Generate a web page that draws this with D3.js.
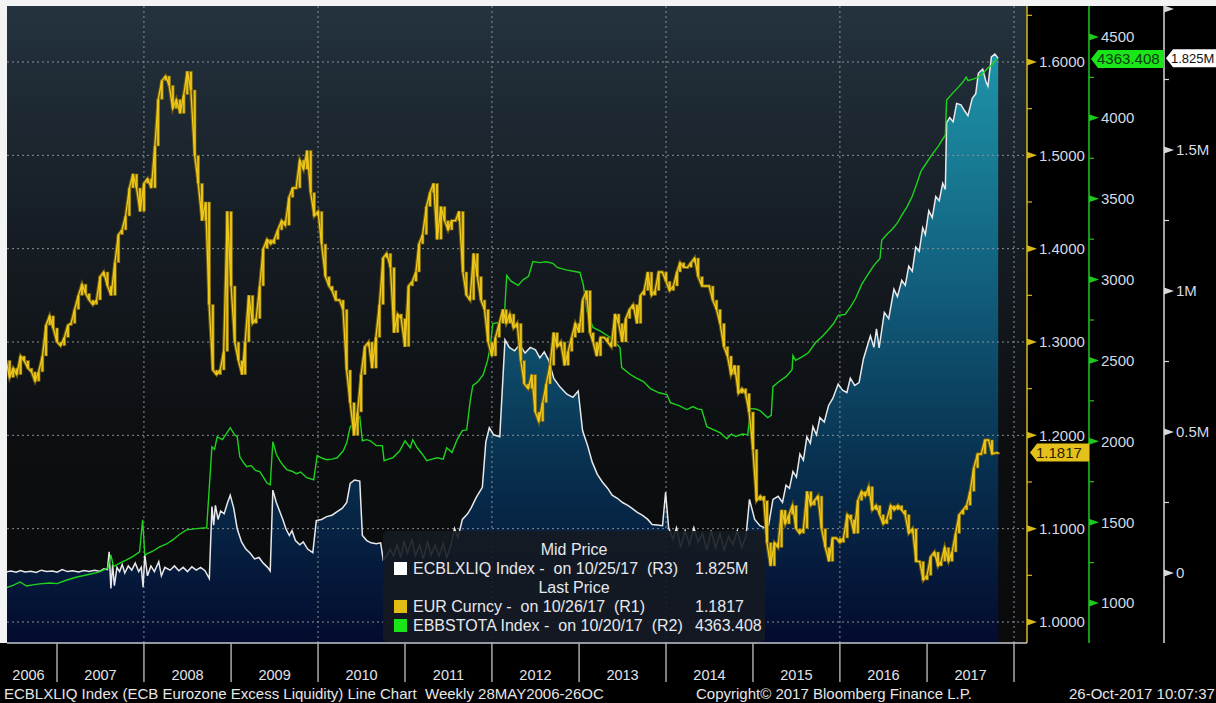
<!DOCTYPE html>
<html>
<head>
<meta charset="utf-8">
<script src="https://cdn.jsdelivr.net/npm/d3@7"></script>
<style>
html, body { margin: 0; padding: 0; background: #000; }
svg { display: block; }
text { font-family: "Liberation Sans", Arial, sans-serif; }
</style>
</head>
<body>
<svg id="chart" width="1216" height="703"></svg>
<script>
// EUR Curncy, twice a month (1st and 16th), Jun 2006 .. Oct 2017 (last = 26 Oct)
const eurClose = [
  1.280, 1.262, 1.272, 1.265, 1.285, 1.280, 1.272, 1.268, 1.258, 1.268, 1.285, 1.318, 1.328, 1.315,
  1.300, 1.296, 1.305, 1.318, 1.320, 1.335, 1.350, 1.362, 1.352, 1.345, 1.340, 1.345,
  1.370, 1.375, 1.360, 1.350, 1.385, 1.415, 1.420, 1.435, 1.465, 1.480, 1.465, 1.440,
  1.470, 1.475, 1.465, 1.510, 1.560, 1.580, 1.585, 1.575, 1.550, 1.560, 1.545, 1.565,
  1.590, 1.570, 1.500, 1.470, 1.430, 1.450, 1.340, 1.270, 1.265, 1.270, 1.290, 1.440,
  1.360, 1.300, 1.280, 1.265, 1.300, 1.350, 1.320, 1.325, 1.360, 1.400, 1.410, 1.405,
  1.410, 1.420, 1.430, 1.425, 1.455, 1.465, 1.465, 1.495, 1.485, 1.505, 1.460, 1.435,
  1.440, 1.405, 1.370, 1.360, 1.355, 1.345, 1.345, 1.335, 1.270, 1.235, 1.200, 1.225,
  1.265, 1.295, 1.300, 1.272, 1.305, 1.340, 1.390, 1.395, 1.380, 1.310, 1.330, 1.325,
  1.295, 1.360, 1.365, 1.375, 1.405, 1.415, 1.445, 1.460, 1.470, 1.410, 1.445, 1.430,
  1.420, 1.430, 1.430, 1.440, 1.375, 1.350, 1.345, 1.395, 1.370, 1.345, 1.335, 1.300,
  1.285, 1.305, 1.320, 1.335, 1.320, 1.330, 1.315, 1.320, 1.280, 1.255, 1.250, 1.265,
  1.225, 1.215, 1.235, 1.255, 1.275, 1.310, 1.295, 1.300, 1.275, 1.290, 1.305, 1.320,
  1.310, 1.345, 1.355, 1.310, 1.300, 1.285, 1.305, 1.305, 1.300, 1.295, 1.330, 1.320,
  1.300, 1.325, 1.335, 1.340, 1.320, 1.350, 1.355, 1.375, 1.350, 1.355, 1.375, 1.375,
  1.365, 1.355, 1.360, 1.375, 1.385, 1.380, 1.380, 1.385, 1.390, 1.370, 1.360, 1.360,
  1.360, 1.345, 1.335, 1.320, 1.295, 1.285, 1.265, 1.275, 1.245, 1.250, 1.245, 1.225,
  1.185, 1.130, 1.135, 1.130, 1.085, 1.060, 1.085, 1.080, 1.120, 1.105, 1.115, 1.125,
  1.100, 1.095, 1.100, 1.140, 1.125, 1.130, 1.135, 1.100, 1.080, 1.065, 1.090, 1.090,
  1.085, 1.090, 1.115, 1.110, 1.095, 1.130, 1.140, 1.135, 1.145, 1.120, 1.125, 1.115,
  1.105, 1.110, 1.125, 1.120, 1.125, 1.120, 1.115, 1.095, 1.100, 1.065, 1.065, 1.045,
  1.050, 1.070, 1.075, 1.060, 1.065, 1.080, 1.065, 1.075, 1.095, 1.115, 1.120, 1.125,
  1.140, 1.165, 1.180, 1.180, 1.195, 1.195, 1.180, 1.1817
];

// EBBSTOTA Index (ECB balance sheet), [decimal year, value]
const balanceSheet = [
  [2006.41, 1093], [2006.5, 1110], [2006.575, 1130], [2006.65, 1105], [2006.72, 1112], [2006.8, 1118],
  [2006.92, 1124], [2007.0, 1120], [2007.115, 1142], [2007.23, 1161], [2007.35, 1175], [2007.49, 1192],
  [2007.585, 1217], [2007.62, 1297], [2007.65, 1225], [2007.7, 1240], [2007.8, 1266], [2007.88, 1290],
  [2007.95, 1316], [2007.985, 1514], [2008.01, 1297], [2008.1, 1320], [2008.18, 1347], [2008.26, 1365],
  [2008.33, 1390], [2008.41, 1425], [2008.49, 1452], [2008.6, 1460], [2008.72, 1465], [2008.76, 1800],
  [2008.78, 1966], [2008.81, 1950], [2008.84, 2028], [2008.9, 2010], [2008.95, 2050], [2008.99, 2084],
  [2009.04, 2040], [2009.07, 2028], [2009.1, 1904], [2009.14, 1870], [2009.18, 1843], [2009.23, 1850],
  [2009.28, 1820], [2009.33, 1812], [2009.38, 1770], [2009.41, 1743], [2009.45, 1731], [2009.48, 1997],
  [2009.52, 1920], [2009.56, 1880], [2009.6, 1850], [2009.64, 1824], [2009.7, 1815], [2009.75, 1800],
  [2009.8, 1810], [2009.87, 1775], [2009.95, 1762], [2009.99, 1911], [2010.05, 1895], [2010.1, 1886],
  [2010.16, 1890], [2010.22, 1898], [2010.29, 1941], [2010.33, 1990], [2010.37, 2090], [2010.42, 2120],
  [2010.48, 2152], [2010.51, 2003], [2010.56, 2010], [2010.6, 2003], [2010.67, 1973], [2010.74, 1973],
  [2010.76, 1880], [2010.81, 1890], [2010.86, 1898], [2010.94, 1941], [2011.0, 2003], [2011.06, 1960],
  [2011.09, 2010], [2011.14, 1960], [2011.2, 1920], [2011.25, 1880], [2011.31, 1890], [2011.37, 1898],
  [2011.44, 1890], [2011.48, 1960], [2011.54, 1930], [2011.6, 2010], [2011.66, 2066], [2011.71, 2070],
  [2011.75, 2250], [2011.78, 2344], [2011.84, 2370], [2011.9, 2412], [2011.95, 2500], [2011.98, 2580],
  [2012.01, 2728], [2012.08, 2735], [2012.14, 2750], [2012.17, 3026], [2012.22, 2990], [2012.3, 2964],
  [2012.36, 3000], [2012.42, 3020], [2012.47, 3112], [2012.55, 3105], [2012.62, 3110], [2012.7, 3100],
  [2012.75, 3075], [2012.85, 3060], [2012.95, 3050], [2013.01, 3044], [2013.05, 2964], [2013.09, 2809],
  [2013.16, 2704], [2013.25, 2680], [2013.36, 2642], [2013.47, 2580], [2013.49, 2456], [2013.59, 2413],
  [2013.66, 2390], [2013.74, 2369], [2013.82, 2326], [2013.92, 2300], [2014.01, 2289], [2014.05, 2239],
  [2014.15, 2220], [2014.24, 2196], [2014.31, 2215], [2014.36, 2200], [2014.41, 2196], [2014.47, 2090],
  [2014.55, 2070], [2014.62, 2053], [2014.7, 2016], [2014.75, 2045], [2014.8, 2030], [2014.88, 2045],
  [2014.94, 2040], [2014.97, 2202], [2015.03, 2200], [2015.08, 2190], [2015.17, 2146], [2015.21, 2160],
  [2015.23, 2338], [2015.3, 2370], [2015.38, 2400], [2015.45, 2443], [2015.46, 2530], [2015.49, 2500],
  [2015.56, 2520], [2015.64, 2549], [2015.72, 2611], [2015.8, 2650], [2015.87, 2691], [2015.93, 2730],
  [2015.98, 2778], [2016.06, 2785], [2016.12, 2830], [2016.18, 2883], [2016.25, 2970], [2016.32, 3030],
  [2016.39, 3088], [2016.46, 3131], [2016.48, 3243], [2016.54, 3280], [2016.6, 3311], [2016.66, 3350],
  [2016.71, 3398], [2016.77, 3450], [2016.83, 3515], [2016.88, 3590], [2016.93, 3670], [2016.98, 3710],
  [2017.03, 3751], [2017.08, 3790], [2017.13, 3825], [2017.17, 3860], [2017.21, 3893], [2017.225, 4110],
  [2017.29, 4150], [2017.36, 4190], [2017.41, 4220], [2017.45, 4252], [2017.47, 4230], [2017.53, 4240],
  [2017.59, 4252], [2017.65, 4280], [2017.7, 4308], [2017.75, 4330], [2017.8, 4363.408]
];

// ECBLXLIQ Index (excess liquidity, millions), [decimal year, value]
const liquidity = [
  [2006.41, 0.004], [2006.47, 0.007], [2006.53, 0.003], [2006.58, 0.009], [2006.63, 0.004], [2006.7, 0.006],
  [2006.76, 0.002], [2006.82, 0.01], [2006.88, 0.005], [2006.95, 0.007], [2007.0, 0.003], [2007.06, 0.012],
  [2007.12, 0.005], [2007.18, 0.008], [2007.25, 0.004], [2007.31, 0.009], [2007.37, 0.005], [2007.43, 0.01],
  [2007.49, 0.006], [2007.54, 0.015], [2007.58, 0.012], [2007.6, 0.075], [2007.62, -0.055], [2007.64, 0.03],
  [2007.66, -0.045], [2007.69, 0.02], [2007.72, 0.005], [2007.75, 0.03], [2007.78, 0.0], [2007.82, 0.025],
  [2007.86, 0.01], [2007.9, 0.035], [2007.94, 0.005], [2007.97, 0.02], [2007.99, -0.05], [2008.01, 0.065],
  [2008.04, -0.01], [2008.08, 0.025], [2008.12, 0.005], [2008.17, 0.04], [2008.2, -0.01], [2008.24, 0.02],
  [2008.3, 0.01], [2008.35, 0.025], [2008.4, 0.008], [2008.45, 0.02], [2008.5, 0.005], [2008.55, 0.022],
  [2008.6, 0.01], [2008.65, 0.02], [2008.7, 0.008], [2008.75, -0.02], [2008.78, 0.236], [2008.8, 0.17],
  [2008.82, 0.24], [2008.85, 0.19], [2008.88, 0.22], [2008.92, 0.21], [2008.96, 0.25], [2008.99, 0.276],
  [2009.03, 0.23], [2009.07, 0.157], [2009.12, 0.11], [2009.17, 0.085], [2009.22, 0.07], [2009.27, 0.05],
  [2009.32, 0.055], [2009.37, 0.035], [2009.42, 0.02], [2009.45, 0.007], [2009.48, 0.294], [2009.52, 0.25],
  [2009.56, 0.218], [2009.6, 0.185], [2009.63, 0.157], [2009.67, 0.133], [2009.7, 0.15], [2009.74, 0.115],
  [2009.79, 0.1], [2009.83, 0.11], [2009.88, 0.085], [2009.94, 0.072], [2009.98, 0.186], [2010.04, 0.19],
  [2010.1, 0.2], [2010.16, 0.205], [2010.22, 0.218], [2010.28, 0.23], [2010.33, 0.25], [2010.37, 0.318],
  [2010.42, 0.33], [2010.48, 0.326], [2010.51, 0.133], [2010.56, 0.115], [2010.61, 0.107], [2010.67, 0.104],
  [2010.72, 0.107], [2010.75, 0.047], [2010.79, 0.06], [2010.83, 0.085], [2010.87, 0.06], [2010.91, 0.1],
  [2010.95, 0.055], [2010.99, 0.11], [2011.03, 0.07], [2011.08, 0.12], [2011.12, 0.06], [2011.17, 0.1],
  [2011.21, 0.05], [2011.26, 0.11], [2011.3, 0.065], [2011.35, 0.1], [2011.39, 0.06], [2011.44, 0.105],
  [2011.48, 0.055], [2011.53, 0.1], [2011.57, 0.157], [2011.61, 0.125], [2011.66, 0.19], [2011.72, 0.21],
  [2011.76, 0.23], [2011.82, 0.268], [2011.89, 0.304], [2011.93, 0.465], [2011.97, 0.515], [2012.02, 0.49],
  [2012.09, 0.483], [2012.15, 0.827], [2012.2, 0.8], [2012.26, 0.788], [2012.32, 0.81], [2012.38, 0.78],
  [2012.44, 0.8], [2012.5, 0.791], [2012.55, 0.763], [2012.6, 0.784], [2012.65, 0.755], [2012.71, 0.69],
  [2012.78, 0.66], [2012.86, 0.634], [2012.93, 0.623], [2012.99, 0.645], [2013.04, 0.505], [2013.1, 0.45],
  [2013.15, 0.394], [2013.21, 0.35], [2013.27, 0.322], [2013.33, 0.3], [2013.38, 0.276], [2013.44, 0.265],
  [2013.5, 0.25], [2013.56, 0.24], [2013.61, 0.229], [2013.67, 0.215], [2013.73, 0.204], [2013.79, 0.19],
  [2013.84, 0.172], [2013.9, 0.17], [2013.96, 0.168], [2013.995, 0.286], [2014.03, 0.16], [2014.08, 0.12],
  [2014.12, 0.16], [2014.17, 0.09], [2014.22, 0.15], [2014.27, 0.1], [2014.32, 0.16], [2014.37, 0.11],
  [2014.42, 0.14], [2014.47, 0.08], [2014.52, 0.15], [2014.57, 0.09], [2014.62, 0.14], [2014.67, 0.082],
  [2014.72, 0.13], [2014.77, 0.1], [2014.82, 0.15], [2014.87, 0.09], [2014.92, 0.13], [2014.96, 0.261],
  [2015.02, 0.19], [2015.08, 0.168], [2015.13, 0.161], [2015.18, 0.17], [2015.23, 0.261], [2015.29, 0.272],
  [2015.34, 0.25], [2015.38, 0.311], [2015.42, 0.3], [2015.46, 0.36], [2015.5, 0.34], [2015.54, 0.422],
  [2015.58, 0.4], [2015.62, 0.483], [2015.66, 0.46], [2015.69, 0.519], [2015.73, 0.49], [2015.77, 0.551],
  [2015.82, 0.535], [2015.87, 0.594], [2015.92, 0.62], [2015.98, 0.67], [2016.03, 0.648], [2016.08, 0.64],
  [2016.12, 0.691], [2016.17, 0.665], [2016.22, 0.675], [2016.27, 0.759], [2016.32, 0.81], [2016.35, 0.841],
  [2016.39, 0.8], [2016.42, 0.866], [2016.45, 0.798], [2016.51, 0.924], [2016.56, 0.902], [2016.62, 1.006],
  [2016.66, 0.98], [2016.71, 1.038], [2016.75, 1.02], [2016.79, 1.088], [2016.83, 1.07], [2016.87, 1.156],
  [2016.91, 1.14], [2016.95, 1.224], [2016.98, 1.2], [2017.02, 1.285], [2017.06, 1.26], [2017.1, 1.335],
  [2017.14, 1.32], [2017.18, 1.382], [2017.21, 1.36], [2017.225, 1.597], [2017.26, 1.615], [2017.3, 1.6],
  [2017.34, 1.665], [2017.39, 1.66], [2017.43, 1.64], [2017.47, 1.622], [2017.52, 1.683], [2017.56, 1.7],
  [2017.59, 1.772], [2017.64, 1.787], [2017.68, 1.74], [2017.7, 1.726], [2017.74, 1.83], [2017.78, 1.84],
  [2017.818, 1.825]
];

// axis ticks
const eurTicks = [1.0, 1.1, 1.2, 1.3, 1.4, 1.5, 1.6];
const eurMinor = [1.05, 1.15, 1.25, 1.35, 1.45, 1.55, 1.65];
const bsTicks = [1000, 1500, 2000, 2500, 3000, 3500, 4000, 4500];
const bsMinor = [1250, 1750, 2250, 2750, 3250, 3750, 4250];
const liqTicks = [0, 0.5, 1, 1.5, 2];
const liqTickLabels = ["0", "0.5M", "1M", "1.5M", ""];
const liqMinor = [0.25, 0.75, 1.25, 1.75];
const years = [2006, 2007, 2008, 2009, 2010, 2011, 2012, 2013, 2014, 2015, 2016, 2017];
const gridYears = [2008, 2010, 2012, 2014, 2016, 2018];

const legendRows = [
  { head: "Mid Price", y: 555 },
  { color: "#ffffff", label: "ECBLXLIQ Index -  on 10/25/17  (R3)", value: "1.825M", y: 574 },
  { head: "Last Price", y: 593 },
  { color: "#e2be14", label: "EUR Curncy -  on 10/26/17  (R1)", value: "1.1817", y: 612 },
  { color: "#19e619", label: "EBBSTOTA Index -  on 10/20/17  (R2)", value: "4363.408", y: 631 }
];

// decimal year -> Date
function fromYear(t) {
  const y = Math.floor(t);
  const s = Date.UTC(y, 0, 1), e = Date.UTC(y + 1, 0, 1);
  return new Date(s + (t - y) * (e - s));
}

const eurData = eurClose.map((v, i) => ({
  date: i === eurClose.length - 1 ? new Date(Date.UTC(2017, 9, 26))
    : new Date(Date.UTC(2006, 5 + Math.floor(i / 2), i % 2 ? 16 : 1)),
  v
}));
const bsData = balanceSheet.map(d => ({ date: fromYear(d[0]), v: d[1] }));
const liqData = liquidity.map(d => ({ date: fromYear(d[0]), v: d[1] }));

const W = 1216, H = 703;
const plot = { left: 7, top: 6, right: 1027, bottom: 643 };

const x = d3.scaleUtc()
  .domain([Date.UTC(2007, 0, 1), Date.UTC(2018, 0, 1)])
  .range([57, 1014]);
const yEur = d3.scaleLinear().domain([1.0, 1.6]).range([622, 62]);
const yBs = d3.scaleLinear().domain([1000, 4500]).range([603, 37]);
const yLiq = d3.scaleLinear().domain([0, 2]).range([573, 9]);

const svg = d3.select("#chart");
const defs = svg.append("defs");

// backgrounds
svg.append("rect").attr("width", W).attr("height", H).attr("fill", "#000");
svg.append("rect").attr("width", W).attr("height", plot.top).attr("fill", "#f3f3f3");
svg.append("rect").attr("y", 0).attr("width", plot.left).attr("height", plot.bottom).attr("fill", "#f3f3f3");

const bgGrad = defs.append("linearGradient").attr("id", "bgGrad")
  .attr("gradientUnits", "userSpaceOnUse").attr("x1", 0).attr("x2", 0)
  .attr("y1", plot.top).attr("y2", plot.bottom);
bgGrad.append("stop").attr("offset", 0).attr("stop-color", "#24333f");
bgGrad.append("stop").attr("offset", 0.35).attr("stop-color", "#161d24");
bgGrad.append("stop").attr("offset", 0.7).attr("stop-color", "#0c0e10");
bgGrad.append("stop").attr("offset", 1).attr("stop-color", "#0a0a0b");

const areaGrad = defs.append("linearGradient").attr("id", "areaGrad")
  .attr("gradientUnits", "userSpaceOnUse").attr("x1", 0).attr("x2", 0)
  .attr("y1", 50).attr("y2", plot.bottom);
areaGrad.append("stop").attr("offset", 0).attr("stop-color", "#1e95aa");
areaGrad.append("stop").attr("offset", 0.4).attr("stop-color", "#115e7c");
areaGrad.append("stop").attr("offset", 0.7).attr("stop-color", "#08304f");
areaGrad.append("stop").attr("offset", 1).attr("stop-color", "#040b2e");

defs.append("clipPath").attr("id", "plotClip").append("rect")
  .attr("x", plot.left).attr("y", plot.top)
  .attr("width", plot.right - plot.left).attr("height", plot.bottom - plot.top);

svg.append("rect")
  .attr("x", plot.left).attr("y", plot.top)
  .attr("width", plot.right - plot.left).attr("height", plot.bottom - plot.top)
  .attr("fill", "url(#bgGrad)");

const g = svg.append("g").attr("clip-path", "url(#plotClip)");

// excess liquidity area
g.append("path").datum(liqData)
  .attr("fill", "url(#areaGrad)")
  .attr("d", d3.area().x(d => x(d.date)).y0(plot.bottom).y1(d => yLiq(d.v)));

// grid
g.selectAll(".hgrid").data(eurTicks).join("line")
  .attr("x1", plot.left).attr("x2", plot.right)
  .attr("y1", d => yEur(d)).attr("y2", d => yEur(d))
  .attr("stroke", "#8c9196").attr("stroke-width", 1).attr("stroke-dasharray", "2,3");
g.selectAll(".vgrid").data(gridYears).join("line")
  .attr("x1", d => x(Date.UTC(d, 0, 1))).attr("x2", d => x(Date.UTC(d, 0, 1)))
  .attr("y1", plot.top).attr("y2", plot.bottom)
  .attr("stroke", "#8c9196").attr("stroke-width", 1).attr("stroke-dasharray", "2,3");

// lines
g.append("path").datum(liqData)
  .attr("fill", "none").attr("stroke", "#e8e8ea").attr("stroke-width", 1.5)
  .attr("d", d3.line().x(d => x(d.date)).y(d => yLiq(d.v)));

g.append("path").datum(bsData)
  .attr("fill", "none").attr("stroke", "#1ed21e").attr("stroke-width", 1.4)
  .attr("d", d3.line().x(d => x(d.date)).y(d => yBs(d.v)));

const eurLine = d3.line().x(d => x(d.date)).y(d => yEur(d.v));
g.append("path").datum(eurData)
  .attr("fill", "none").attr("stroke", "#6a5a10").attr("stroke-width", 3.4)
  .attr("d", eurLine);
g.selectAll(".candle").data(eurData.slice(1)).join("rect")
  .attr("x", d => x(d.date) - 1.4)
  .attr("width", 2.8)
  .attr("y", (d, i) => yEur(Math.max(d.v, eurData[i].v)))
  .attr("height", (d, i) => Math.max(1, Math.abs(yEur(d.v) - yEur(eurData[i].v))))
  .attr("fill", "#e6c01a").attr("stroke", "#7a6710").attr("stroke-width", 0.6);
g.append("path").datum(eurData)
  .attr("fill", "none").attr("stroke", "#f2ca18").attr("stroke-width", 1.3)
  .attr("d", eurLine);

// legend
const lg = svg.append("g");
lg.append("rect").attr("x", 383).attr("y", 531).attr("width", 382).attr("height", 111)
  .attr("rx", 5).attr("fill", "#151a21").attr("fill-opacity", 0.9);
legendRows.forEach(r => {
  if (r.head) {
    lg.append("text").attr("x", 574).attr("y", r.y).attr("text-anchor", "middle")
      .attr("font-size", 16).attr("fill", "#e6e8ec").text(r.head);
  } else {
    lg.append("rect").attr("x", 394).attr("y", r.y - 12).attr("width", 13).attr("height", 13)
      .attr("fill", r.color);
    lg.append("text").attr("x", 413).attr("y", r.y).attr("font-size", 16).attr("fill", "#e6e8ec")
      .style("white-space", "pre").text(r.label);
    lg.append("text").attr("x", 695).attr("y", r.y).attr("font-size", 16).attr("fill", "#e6e8ec")
      .text(r.value);
  }
});

// right axes
function rightAxis(xPos, scale, majors, minors, color, labels) {
  const a = svg.append("g");
  a.append("line").attr("x1", xPos).attr("x2", xPos).attr("y1", plot.top).attr("y2", plot.bottom)
    .attr("stroke", color).attr("stroke-width", 1.5);
  a.selectAll(".mn").data(minors).join("line")
    .attr("x1", xPos).attr("x2", xPos + 5)
    .attr("y1", d => scale(d)).attr("y2", d => scale(d))
    .attr("stroke", color).attr("stroke-width", 1.2);
  a.selectAll(".mj").data(majors).join("path")
    .attr("d", d => `M${xPos},${scale(d) - 3.5}L${xPos + 10},${scale(d)}L${xPos},${scale(d) + 3.5}Z`)
    .attr("fill", color);
  a.selectAll(".lb").data(majors).join("text")
    .attr("x", xPos + 12).attr("y", d => scale(d)).attr("dy", "0.36em")
    .attr("font-size", 15).attr("fill", "#d4dae3")
    .text((d, i) => labels[i]);
}
rightAxis(1027, yEur, eurTicks, eurMinor, "#d9b81c", eurTicks.map(d3.format(".4f")));
rightAxis(1089, yBs, bsTicks, bsMinor, "#1ec81e", bsTicks.map(String));
rightAxis(1164, yLiq, liqTicks, liqMinor, "#d8d8d8", liqTickLabels);

// last value tags
function tag(xTip, y, w, fill, textFill, label, size, pad) {
  svg.append("path")
    .attr("d", `M${xTip},${y}L${xTip + 7},${y - 9}L${xTip + w},${y - 9}L${xTip + w},${y + 9}L${xTip + 7},${y + 9}Z`)
    .attr("fill", fill);
  svg.append("text").attr("x", xTip + pad).attr("y", y).attr("dy", "0.36em")
    .attr("font-size", size).attr("fill", textFill).text(label);
}
const lastBs = bsData[bsData.length - 1], lastLiq = liqData[liqData.length - 1], lastEur = eurData[eurData.length - 1];
tag(1091, yBs(lastBs.v), 73, "#19e619", "#0b3a0b", d3.format(".3f")(lastBs.v), 15, 6);
tag(1166, yLiq(lastLiq.v), 50, "#ffffff", "#111", "1.825M", 13, 5);
tag(1030, yEur(lastEur.v), 59, "#e5c11c", "#2b2200", d3.format(".4f")(lastEur.v), 15, 6);

// bottom axis
svg.append("line").attr("x1", plot.left).attr("x2", plot.right)
  .attr("y1", plot.bottom).attr("y2", plot.bottom)
  .attr("stroke", "#c4c8d0").attr("stroke-width", 1.5);
svg.selectAll(".ytick").data(years.slice(1).concat([2018])).join("line")
  .attr("x1", d => x(Date.UTC(d, 0, 1))).attr("x2", d => x(Date.UTC(d, 0, 1)))
  .attr("y1", plot.bottom).attr("y2", 682)
  .attr("stroke", "#a8a8a8").attr("stroke-width", 1.5);
svg.selectAll(".ylab").data(years).join("text")
  .attr("x", d => {
    const a = d === 2006 ? 0 : x(Date.UTC(d, 0, 1));
    return (a + x(Date.UTC(d + 1, 0, 1))) / 2;
  })
  .attr("y", 680).attr("text-anchor", "middle")
  .attr("font-size", 14.5).attr("fill", "#e0e3e8").text(d => d);

// footer
svg.append("text").attr("x", 4).attr("y", 699).attr("font-size", 15).attr("fill", "#e6e6e6")
  .style("white-space", "pre")
  .text("ECBLXLIQ Index (ECB Eurozone Excess Liquidity) Line Chart  Weekly 28MAY2006-26OC");
svg.append("text").attr("x", 696).attr("y", 699).attr("font-size", 15).attr("fill", "#e6e6e6")
  .text("Copyright\u00a9 2017 Bloomberg Finance L.P.");
svg.append("text").attr("x", 1069).attr("y", 699).attr("font-size", 15).attr("fill", "#e6e6e6")
  .text("26-Oct-2017 10:07:37");
</script>
</body>
</html>
